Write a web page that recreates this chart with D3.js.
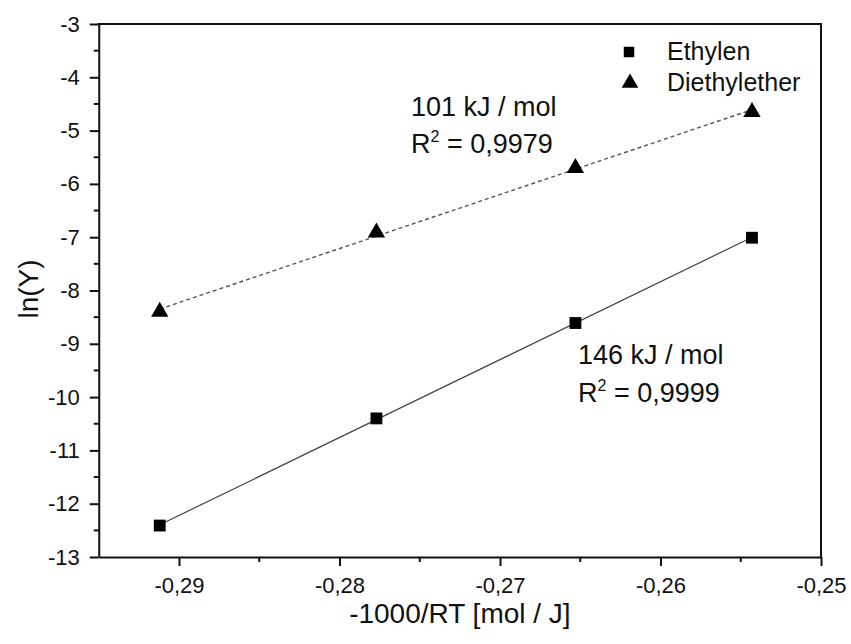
<!DOCTYPE html>
<html>
<head>
<meta charset="utf-8">
<script src="https://cdn.jsdelivr.net/npm/d3@7"></script>
<style>
  body { margin: 0; background: #fff; }
  svg { display: block; font-family: "Liberation Sans", Arial, sans-serif; }
  .axis path, .axis line { stroke: #111; stroke-width: 2; }
  .axis text { fill: #111; font-size: 22px; }
</style>
</head>
<body>
<svg id="chart" width="851" height="644"></svg>
<script>
(function (d3) {
  'use strict'
  // data
  const xValues = [-0.2912, -0.2777, -0.2653, -0.2543]
  const ethylen = [-12.41, -10.40, -8.61, -7.01]
  const diethylether = [-8.40, -6.91, -5.70, -4.65]
  const seriesNames = ['Ethylen', 'Diethylether']
  const xTicks = [-0.29, -0.28, -0.27, -0.26, -0.25]
  const xMinor = [-0.285, -0.275, -0.265, -0.255]
  const yTicks = [-13, -12, -11, -10, -9, -8, -7, -6, -5, -4, -3]
  const yMinor = [-12.5, -11.5, -10.5, -9.5, -8.5, -7.5, -6.5, -5.5, -4.5, -3.5]
  const notes = [
    { energy: '101 kJ / mol', r2: '0,9979' },
    { energy: '146 kJ / mol', r2: '0,9999' }
  ]

  const W = 851
  const H = 644
  const plot = { left: 98.75, right: 821, top: 24, bottom: 557 }

  const de = d3.formatLocale({ decimal: ',', thousands: '.', grouping: [3], currency: ['', ''], minus: '-' })

  const x = d3.scaleLinear().domain([-0.295, -0.25]).range([plot.left, plot.right])
  const y = d3.scaleLinear().domain([-13, -3]).range([plot.bottom, plot.top])

  const svg = d3.select('#chart').attr('width', W).attr('height', H)

  // least squares fit for the lines
  function fit(xs, ys) {
    const mx = d3.mean(xs), my = d3.mean(ys)
    let sxy = 0, sxx = 0
    xs.forEach((v, i) => { sxy += (v - mx) * (ys[i] - my); sxx += (v - mx) * (v - mx) })
    const b = sxy / sxx
    return v => my + b * (v - mx)
  }

  // axes
  const gx = svg.append('g')
    .attr('class', 'axis')
    .attr('transform', 'translate(0,' + plot.bottom + ')')
    .call(d3.axisBottom(x).tickValues(xTicks).tickFormat(de.format('.2f')).tickSize(9).tickSizeOuter(0).tickPadding(11))
  gx.selectAll('.minor').data(xMinor).enter().append('line')
    .attr('class', 'minor')
    .attr('x1', d => x(d)).attr('x2', d => x(d))
    .attr('y1', 0).attr('y2', 5)

  const gy = svg.append('g')
    .attr('class', 'axis')
    .attr('transform', 'translate(' + plot.left + ',0)')
    .call(d3.axisLeft(y).tickValues(yTicks).tickFormat(de.format('d')).tickSize(9).tickSizeOuter(0).tickPadding(10))
  gy.selectAll('.minor').data(yMinor).enter().append('line')
    .attr('class', 'minor')
    .attr('y1', d => y(d)).attr('y2', d => y(d))
    .attr('x1', 0).attr('x2', -5)

  // frame top / right
  svg.append('path')
    .attr('d', 'M' + (plot.left - 1) + ',' + plot.top + 'H' + plot.right + 'V' + plot.bottom)
    .attr('fill', 'none').attr('stroke', '#111').attr('stroke-width', 2)

  // axis titles
  svg.append('text')
    .attr('x', (plot.left + plot.right) / 2).attr('y', 623)
    .attr('text-anchor', 'middle').attr('font-size', 28).attr('fill', '#111')
    .text('-1000/RT [mol / J]')
  svg.append('text')
    .attr('transform', 'translate(38,289) rotate(-90)')
    .attr('text-anchor', 'middle').attr('font-size', 28).attr('fill', '#111')
    .text('ln(Y)')

  // fit lines
  const x0 = d3.min(xValues), x1 = d3.max(xValues)
  const fE = fit(xValues, ethylen)
  const fD = fit(xValues, diethylether)
  svg.append('line')
    .attr('x1', x(x0)).attr('y1', y(fE(x0))).attr('x2', x(x1)).attr('y2', y(fE(x1)))
    .attr('stroke', '#444').attr('stroke-width', 1.2)
  svg.append('line')
    .attr('x1', x(x0)).attr('y1', y(fD(x0))).attr('x2', x(x1)).attr('y2', y(fD(x1)))
    .attr('stroke', '#555').attr('stroke-width', 1.4).attr('stroke-dasharray', '4,3')

  // markers
  const square = d3.symbol().type(d3.symbolSquare).size(140)
  const triangle = d3.symbol().type(d3.symbolTriangle).size(130)

  svg.selectAll('.sq').data(ethylen).enter().append('path')
    .attr('class', 'sq')
    .attr('d', square)
    .attr('transform', (d, i) => 'translate(' + x(xValues[i]) + ',' + y(d) + ')')
    .attr('fill', '#000')
  svg.selectAll('.tri').data(diethylether).enter().append('path')
    .attr('class', 'tri')
    .attr('d', triangle)
    .attr('transform', (d, i) => 'translate(' + x(xValues[i]) + ',' + y(d) + ')')
    .attr('fill', '#000')

  // legend
  const legend = svg.append('g').attr('font-size', 25).attr('fill', '#111')
  legend.append('path').attr('d', d3.symbol().type(d3.symbolSquare).size(110))
    .attr('transform', 'translate(629,52)').attr('fill', '#000')
  legend.append('path').attr('d', d3.symbol().type(d3.symbolTriangle).size(120))
    .attr('transform', 'translate(630,83)').attr('fill', '#000')
  legend.selectAll('text').data(seriesNames).enter().append('text')
    .attr('x', 667).attr('y', (d, i) => 60 + i * 31)
    .text(d => d)

  // annotations
  const notePos = [{ x: 411, y: 116, y2: 153 }, { x: 578, y: 364, y2: 402 }]
  notes.forEach((n, i) => {
    const p = notePos[i]
    svg.append('text').attr('x', p.x).attr('y', p.y).attr('font-size', 27).attr('fill', '#111').text(n.energy)
    const t = svg.append('text').attr('x', p.x).attr('y', p.y2).attr('font-size', 27).attr('fill', '#111')
    t.append('tspan').text('R')
    t.append('tspan').attr('font-size', 16).attr('dy', -11).text('2')
    t.append('tspan').attr('dy', 11).text(' = ' + n.r2)
  })
}(d3))
</script>
</body>
</html>
